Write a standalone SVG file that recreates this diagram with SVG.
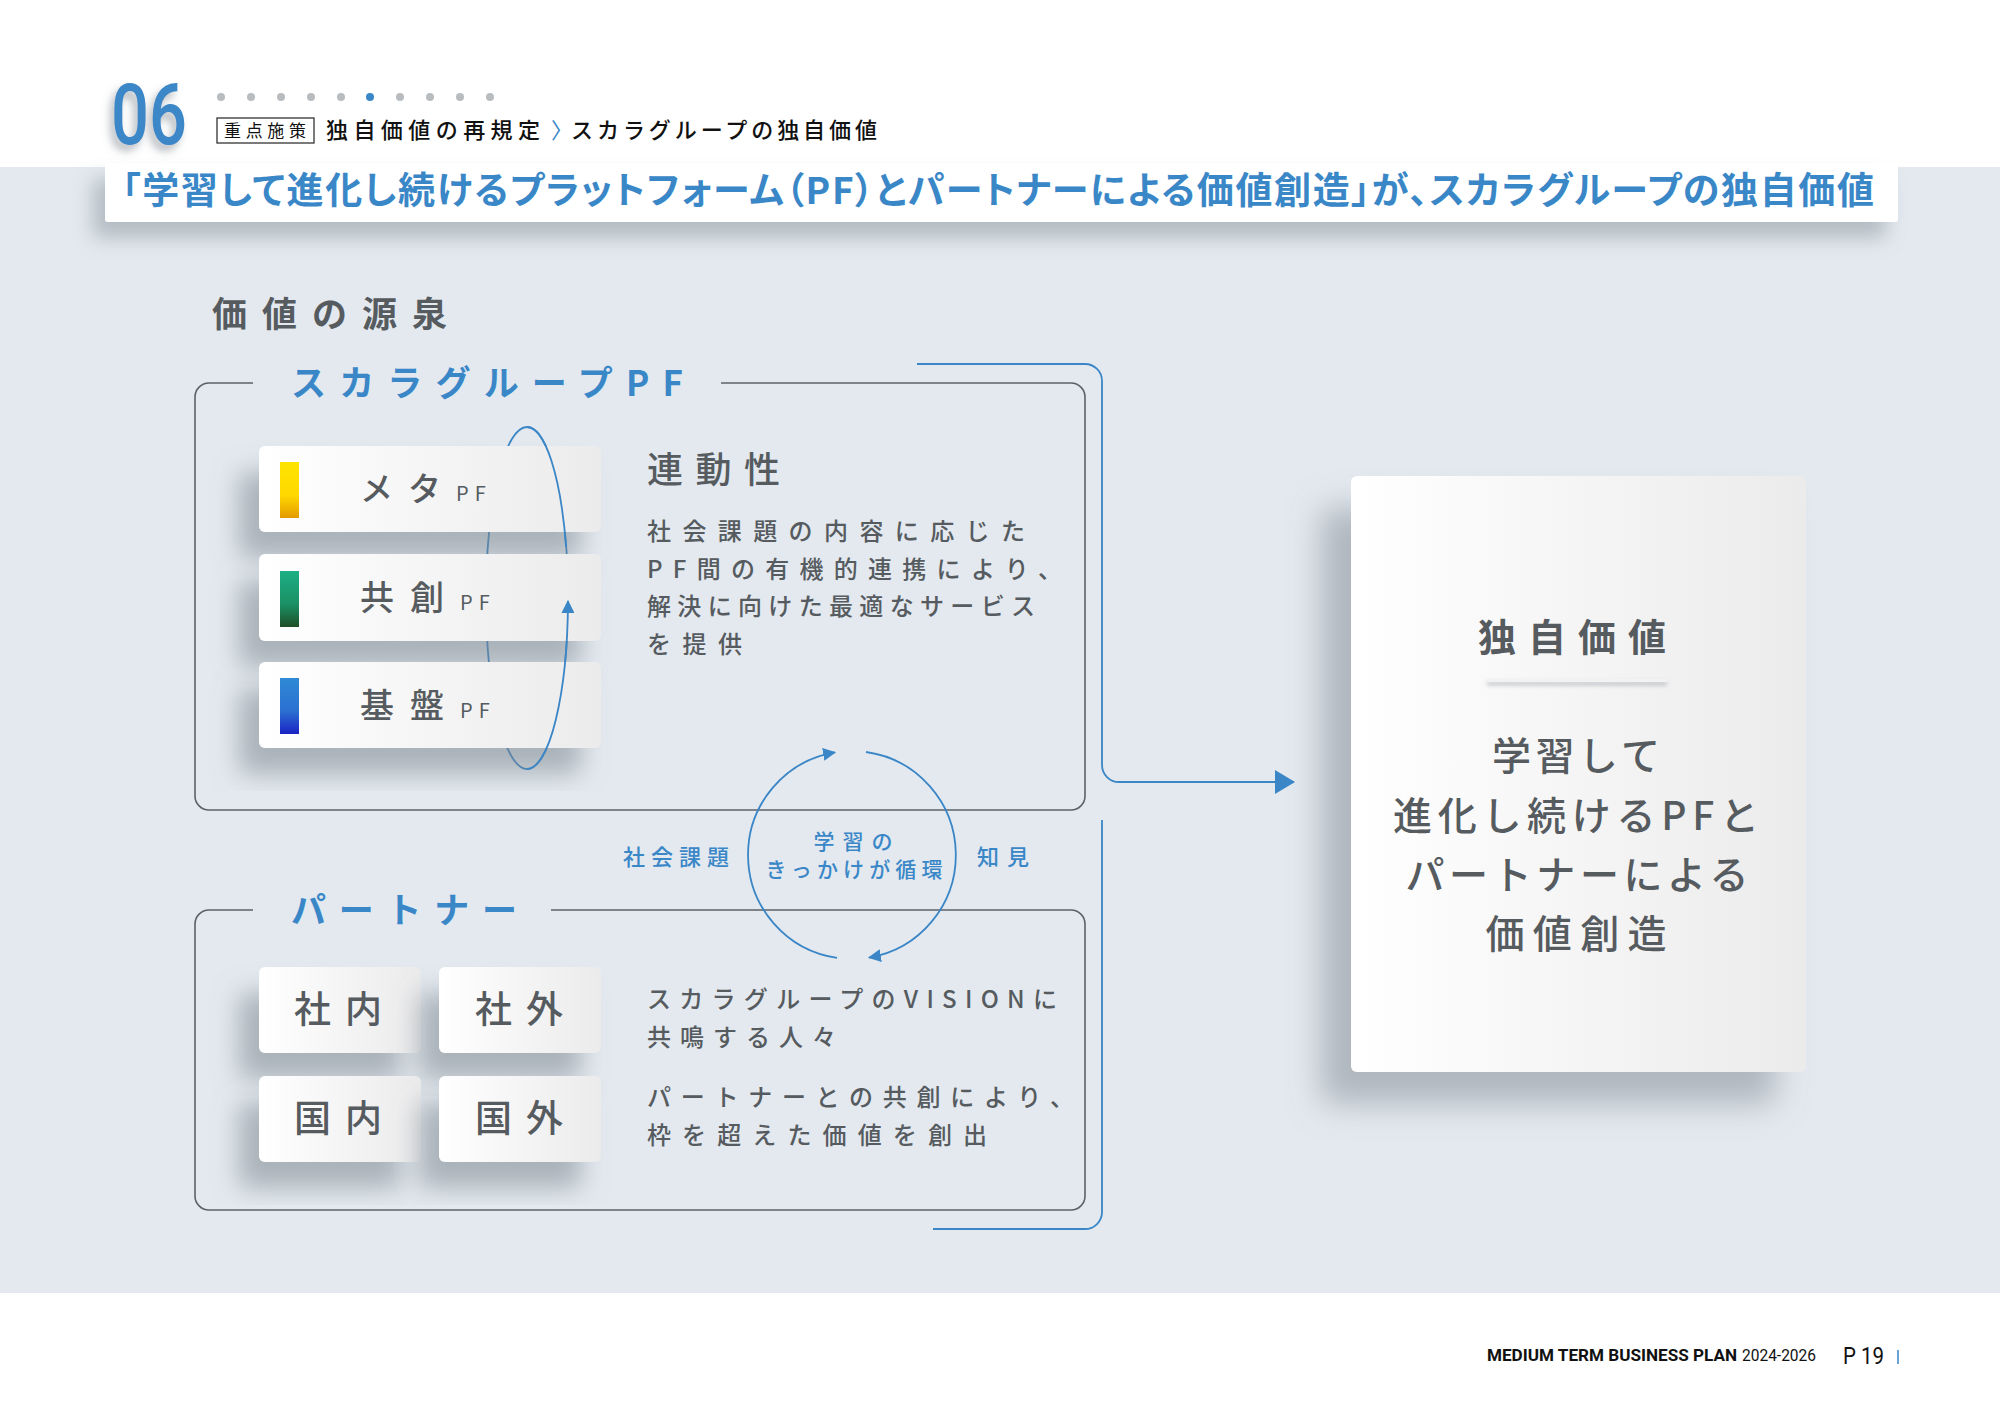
<svg xmlns="http://www.w3.org/2000/svg" width="2000" height="1415" viewBox="0 0 2000 1415">
<defs>
<style>
.jp{font-family:'Noto Sans CJK JP','Noto Sans',sans-serif;}
.gray{fill:#565b60;}
.blue{fill:#3a87c8;}
.frame{fill:none;stroke:#5c6168;stroke-width:1.6;}
.conn{fill:none;stroke:#3a86c6;stroke-width:1.8;}
.card{fill:url(#cardGrad);}
.dot{fill:#b9bcbf;}
.palt{font-feature-settings:'palt';}
</style>
<linearGradient id="cardGrad" x1="0" y1="0" x2="1" y2="0">
<stop offset="0" stop-color="#ffffff"/><stop offset="1" stop-color="#ebebec"/>
</linearGradient>
<linearGradient id="gY" x1="0" y1="0" x2="0" y2="1">
<stop offset="0" stop-color="#ffe400"/><stop offset="0.6" stop-color="#ffd800"/><stop offset="1" stop-color="#e39a00"/>
</linearGradient>
<linearGradient id="gG" x1="0" y1="0" x2="0" y2="1">
<stop offset="0" stop-color="#1daf84"/><stop offset="0.6" stop-color="#1b8f64"/><stop offset="1" stop-color="#1e4f26"/>
</linearGradient>
<linearGradient id="gB" x1="0" y1="0" x2="0" y2="1">
<stop offset="0" stop-color="#2f8ad6"/><stop offset="0.6" stop-color="#2b6fd0"/><stop offset="1" stop-color="#1a22c4"/>
</linearGradient>
<filter id="shCard" x="-40%" y="-40%" width="170%" height="190%">
<feDropShadow dx="-20" dy="26" stdDeviation="13" flood-color="#7c858e" flood-opacity="0.55"/>
</filter>
<filter id="shBig" x="-30%" y="-20%" width="150%" height="140%">
<feDropShadow dx="-30" dy="32" stdDeviation="16" flood-color="#7c858e" flood-opacity="0.5"/>
</filter>
<filter id="shBanner" x="-5%" y="-50%" width="110%" height="250%">
<feDropShadow dx="-12" dy="16" stdDeviation="10" flood-color="#7c858e" flood-opacity="0.45"/>
</filter>
<filter id="shNum" x="-30%" y="-30%" width="160%" height="160%">
<feDropShadow dx="-4" dy="6" stdDeviation="4" flood-color="#808890" flood-opacity="0.6"/>
</filter>
<filter id="shLine" x="-10%" y="-300%" width="120%" height="700%">
<feDropShadow dx="0" dy="3" stdDeviation="2" flood-color="#8a8f95" flood-opacity="0.6"/>
</filter>
<marker id="ah" viewBox="0 0 12 12" refX="11" refY="6" markerWidth="13" markerHeight="13" markerUnits="userSpaceOnUse" orient="auto">
<path d="M0,0 L12,6 L0,12 z" fill="#3a86c6"/>
</marker>
<marker id="ahBig" viewBox="0 0 20 24" refX="19" refY="12" markerWidth="20" markerHeight="24" markerUnits="userSpaceOnUse" orient="auto">
<path d="M0,0 L20,12 L0,24 z" fill="#3a86c6"/>
</marker>
</defs>

<!-- background -->
<rect x="0" y="0" width="2000" height="1415" fill="#ffffff"/>
<rect x="0" y="167" width="2000" height="1126" fill="#e3e9ef"/>

<!-- header -->
<g id="header">
<text x="111" y="144" font-family="Roboto, 'DejaVu Sans', sans-serif" font-weight="500" font-size="86" fill="#3a87c8" textLength="76" lengthAdjust="spacingAndGlyphs" filter="url(#shNum)">06</text>
<circle class="dot" cx="221" cy="97" r="4"/>
<circle class="dot" cx="251" cy="97" r="4"/>
<circle class="dot" cx="281" cy="97" r="4"/>
<circle class="dot" cx="311" cy="97" r="4"/>
<circle class="dot" cx="341" cy="97" r="4"/>
<circle cx="370" cy="97" r="4" fill="#3a87c8"/>
<circle class="dot" cx="400" cy="97" r="4"/>
<circle class="dot" cx="430" cy="97" r="4"/>
<circle class="dot" cx="460" cy="97" r="4"/>
<circle class="dot" cx="490" cy="97" r="4"/>
<rect x="217" y="118" width="97" height="25" fill="#ffffff" stroke="#222" stroke-width="1.2"/>
<text class="jp" x="224" y="137" font-size="17" fill="#111" textLength="82" lengthAdjust="spacing">重点施策</text>
<text class="jp" x="326" y="138" font-size="22" font-weight="500" fill="#111" textLength="214" lengthAdjust="spacing">独自価値の再規定</text>
<text class="jp" x="551" y="138" font-size="22" fill="#3a87c8">〉</text>
<text class="jp" x="571" y="138" font-size="22" font-weight="500" fill="#111" textLength="306" lengthAdjust="spacing">スカラグループの独自価値</text>
</g>

<!-- banner -->
<g id="banner">
<rect x="105" y="163" width="1793" height="59" rx="3" fill="#ffffff" filter="url(#shBanner)"/>
<text class="jp palt blue" x="122" y="204" font-size="37" font-weight="700" textLength="1752" lengthAdjust="spacing">「学習して進化し続けるプラットフォーム（PF）とパートナーによる価値創造」が、スカラグループの独自価値</text>
</g>

<text id="source-title" class="jp gray" x="212" y="327" font-size="35" font-weight="700" letter-spacing="15">価値の源泉</text>

<!-- frames -->
<g id="pf-group">
<path class="frame" d="M721,383 H1071 A14,14 0 0 1 1085,397 V796 A14,14 0 0 1 1071,810 H209 A14,14 0 0 1 195,796 V397 A14,14 0 0 1 209,383 H253"/>
<text class="jp blue" x="291" y="396" font-size="35" font-weight="700" textLength="392" lengthAdjust="spacing">スカラグループPF</text>
</g>
<g id="partner-group">
<path class="frame" d="M551,910 H1071 A14,14 0 0 1 1085,924 V1196 A14,14 0 0 1 1071,1210 H209 A14,14 0 0 1 195,1196 V924 A14,14 0 0 1 209,910 H253"/>
<text class="jp blue" x="291" y="923" font-size="35" font-weight="700" textLength="226" lengthAdjust="spacing">パートナー</text>
</g>

<!-- ellipse behind cards -->
<g id="connectors-back">
<ellipse class="conn" cx="527" cy="598" rx="41" ry="171" stroke-width="1.5"/>
</g>

<!-- PF cards -->
<g id="node-meta">
<rect class="card" x="259" y="446" width="342" height="86" rx="6" filter="url(#shCard)"/>
<rect x="280" y="462" width="19" height="56" fill="url(#gY)"/>
<text class="jp gray" x="360" y="501" font-size="33" font-weight="500" letter-spacing="15">メタ<tspan font-size="20" letter-spacing="6" font-weight="400">PF</tspan></text>
</g>
<g id="node-kyoso">
<rect class="card" x="259" y="554" width="342" height="87" rx="6" filter="url(#shCard)"/>
<rect x="280" y="571" width="19" height="56" fill="url(#gG)"/>
<text class="jp gray" x="360" y="610" font-size="34" font-weight="500" letter-spacing="16">共創<tspan font-size="20" letter-spacing="6" font-weight="400">PF</tspan></text>
</g>
<g id="node-kiban">
<rect class="card" x="259" y="662" width="342" height="86" rx="6" filter="url(#shCard)"/>
<rect x="280" y="678" width="19" height="56" fill="url(#gB)"/>
<text class="jp gray" x="360" y="718" font-size="34" font-weight="500" letter-spacing="16">基盤<tspan font-size="20" letter-spacing="6" font-weight="400">PF</tspan></text>
</g>

<!-- PF description -->
<g id="pf-desc">
<text class="jp gray" x="647" y="483" font-size="36" font-weight="500" letter-spacing="12.5">連動性</text>
<text class="jp gray" x="647" y="540" font-size="24" font-weight="500" textLength="378" lengthAdjust="spacing">社会課題の内容に応じた</text>
<text class="jp gray" x="647" y="578" font-size="24" font-weight="500" textLength="415" lengthAdjust="spacing">PF間の有機的連携により、</text>
<text class="jp gray" x="647" y="615" font-size="24" font-weight="500" textLength="388" lengthAdjust="spacing">解決に向けた最適なサービス</text>
<text class="jp gray" x="647" y="653" font-size="24" font-weight="500" textLength="95" lengthAdjust="spacing">を提供</text>
</g>

<!-- partner cards -->
<g id="node-shanai">
<rect class="card" x="259" y="967" width="162" height="86" rx="6" filter="url(#shCard)"/>
<text class="jp gray" x="294" y="1023" font-size="37" font-weight="500" letter-spacing="14">社内</text>
</g>
<g id="node-shagai">
<rect class="card" x="439" y="967" width="162" height="86" rx="6" filter="url(#shCard)"/>
<text class="jp gray" x="475" y="1023" font-size="37" font-weight="500" letter-spacing="14">社外</text>
</g>
<g id="node-kokunai">
<rect class="card" x="259" y="1076" width="162" height="86" rx="6" filter="url(#shCard)"/>
<text class="jp gray" x="294" y="1132" font-size="37" font-weight="500" letter-spacing="14">国内</text>
</g>
<g id="node-kokugai">
<rect class="card" x="439" y="1076" width="162" height="86" rx="6" filter="url(#shCard)"/>
<text class="jp gray" x="475" y="1132" font-size="37" font-weight="500" letter-spacing="14">国外</text>
</g>

<!-- partner description -->
<g id="partner-desc">
<text class="jp gray" x="647" y="1008" font-size="24" font-weight="500" textLength="410" lengthAdjust="spacing">スカラグループのVISIONに</text>
<text class="jp gray" x="647" y="1046" font-size="24" font-weight="500" textLength="189" lengthAdjust="spacing">共鳴する人々</text>
<text class="jp gray" x="647" y="1106" font-size="24" font-weight="500" textLength="427" lengthAdjust="spacing">パートナーとの共創により、</text>
<text class="jp gray" x="647" y="1144" font-size="24" font-weight="500" textLength="340" lengthAdjust="spacing">枠を超えた価値を創出</text>
</g>

<!-- learning cycle -->
<g id="node-cycle">
<text class="jp blue" x="853" y="849" font-size="21" font-weight="500" text-anchor="middle" textLength="79" lengthAdjust="spacing">学習の</text>
<text class="jp blue" x="854" y="877" font-size="21" font-weight="500" text-anchor="middle" textLength="177" lengthAdjust="spacing">きっかけが循環</text>
</g>
<text id="label-shakai" class="jp blue" x="623" y="865" font-size="22" font-weight="500" textLength="106" lengthAdjust="spacing">社会課題</text>
<text id="label-chiken" class="jp blue" x="977" y="865" font-size="22" font-weight="500" textLength="52" lengthAdjust="spacing">知見</text>

<!-- unique value card -->
<g id="node-dokuji">
<rect class="card" x="1351" y="476" width="455" height="596" rx="6" filter="url(#shBig)"/>
<text class="jp gray" x="1578" y="651" font-size="38" font-weight="700" letter-spacing="12" text-anchor="middle">独自価値</text>
<rect x="1487" y="679" width="180" height="3" fill="#f2f2f2" filter="url(#shLine)"/>
<text class="jp gray" x="1576" y="770" font-size="39" font-weight="500" text-anchor="middle" textLength="168" lengthAdjust="spacing">学習して</text>
<text class="jp gray" x="1576" y="830" font-size="39" font-weight="500" text-anchor="middle" textLength="366" lengthAdjust="spacing">進化し続けるPFと</text>
<text class="jp gray" x="1577" y="889" font-size="39" font-weight="500" text-anchor="middle" textLength="343" lengthAdjust="spacing">パートナーによる</text>
<text class="jp gray" x="1576" y="948" font-size="39" font-weight="500" text-anchor="middle" textLength="181" lengthAdjust="spacing">価値創造</text>
</g>

<!-- connectors -->
<g id="connectors">
<path class="conn" stroke-width="1.5" d="M527,427 A41,171 0 0 1 566.1,547"/>
<path class="conn" stroke-width="1.5" d="M527,769 A41,171 0 0 0 568,601" marker-end="url(#ah)"/>
<path class="conn" d="M837,957.9 A104,104 0 0 1 835,752.4" marker-end="url(#ah)"/>
<path class="conn" d="M866,752 A104,104 0 0 1 869,957.6" marker-end="url(#ah)"/>
<path class="conn" d="M917,364 H1085 A17,17 0 0 1 1102,381 V765 A17,17 0 0 0 1119,782 H1294" marker-end="url(#ahBig)"/>
<path class="conn" d="M1102,820 V1212 A17,17 0 0 1 1085,1229 H933"/>
</g>

<!-- footer -->
<g id="footer">
<text x="1487" y="1361" font-family="Roboto, 'Liberation Sans', sans-serif" font-weight="700" font-size="17" fill="#111" textLength="250" lengthAdjust="spacingAndGlyphs">MEDIUM TERM BUSINESS PLAN</text>
<text x="1742" y="1361" font-family="Roboto, 'Liberation Sans', sans-serif" font-weight="400" font-size="17" fill="#111" textLength="74" lengthAdjust="spacingAndGlyphs">2024-2026</text>
<text x="1843" y="1364" font-family="Roboto, 'Liberation Sans', sans-serif" font-weight="400" font-size="24" fill="#111" textLength="41" lengthAdjust="spacingAndGlyphs">P 19</text>
<line x1="1898" y1="1350" x2="1898" y2="1364" stroke="#3a86c6" stroke-width="1.5"/>
</g>
</svg>
